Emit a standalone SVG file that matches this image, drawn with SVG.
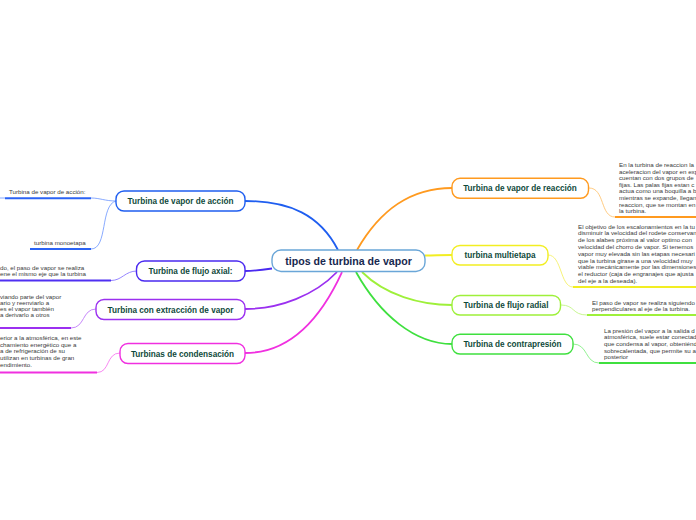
<svg xmlns="http://www.w3.org/2000/svg" width="696" height="520" viewBox="0 0 696 520">
<style>
.node rect{fill:#fff;stroke-width:1.4}
.lbl{font-family:"Liberation Sans",Arial,sans-serif;font-weight:bold;font-size:8.2px;fill:#0f4a3b;text-anchor:middle}
.central{font-family:"Liberation Sans",Arial,sans-serif;font-weight:bold;font-size:10.6px;fill:#17284f;text-anchor:middle}
.sm{font-family:"Liberation Sans",Arial,sans-serif;font-size:6.2px;fill:#3a3a3a}
.main path{fill:none;stroke-width:1.8}
.sub path{fill:none;stroke-width:0.9}
.ul line{stroke-width:2}
</style>
<rect width="696" height="520" fill="#fff"/>
<g id="connectors">
 <g class="main">
  <path d="M338,250 C320,215 290,201 245,201" stroke="#1f5ef0"/>
  <path d="M357,250 C380,210 410,188 452,188" stroke="#ff9a1f"/>
  <path d="M425,255.5 C435,255.5 440,255 452,255" stroke="#f2ee22"/>
  <path d="M362,272 C385,295 420,305 452,305" stroke="#9ef03a"/>
  <path d="M356,272 C380,315 415,344 452,344" stroke="#3fe03f"/>
  <path d="M272,268.5 C262,270 255,271 245,271" stroke="#4a2af0"/>
  <path d="M337,272 C315,295 280,309 245,309" stroke="#9b30f0"/>
  <path d="M342,272 C320,320 290,353 245,353" stroke="#f030e0"/>
 </g>
 <g class="sub">
  <path d="M116,201 C105,201 100,198 91,198" stroke="#7aa0ff"/>
  <path d="M116,201 C100,205 108,249 91,249" stroke="#7aa0ff"/>
  <path d="M137,271 C125,271 122,280.5 111,280.5" stroke="#8a78ff"/>
  <path d="M96,309 C82,309 85,328 71,328" stroke="#c07af8"/>
  <path d="M120,353 C106,353 110,372.5 97,372.5" stroke="#f77aef"/>
  <path d="M589,188 C605,188 600,217 615,217" stroke="#ffc574"/>
  <path d="M548,255 C562,255 560,287 573,287" stroke="#f5f06a"/>
  <path d="M561,305 C575,305 572,315 587,315" stroke="#c2f584"/>
  <path d="M573,344 C588,344 585,363 599,363" stroke="#86ef86"/>
  <path d="M0,198 L5,198" stroke="#7aa0ff"/>
 </g>
 <g class="ul">
  <line x1="5" y1="198.3" x2="91" y2="198.3" stroke="#2b63f5"/>
  <line x1="30" y1="249" x2="91" y2="249" stroke="#2b63f5"/>
  <line x1="0" y1="280.5" x2="111" y2="280.5" stroke="#4f30f2"/>
  <line x1="0" y1="328" x2="71" y2="328" stroke="#9b30f0"/>
  <line x1="0" y1="372.5" x2="97" y2="372.5" stroke="#f030e0"/>
  <line x1="615" y1="217" x2="696" y2="217" stroke="#ff9a1f"/>
  <line x1="573" y1="287" x2="696" y2="287" stroke="#f2ee22"/>
  <line x1="587" y1="315" x2="696" y2="315" stroke="#9ef03a"/>
  <line x1="599" y1="363" x2="696" y2="363" stroke="#3fe03f"/>
 </g>
</g>
<g id="central" class="node">
 <rect x="272" y="250" width="153" height="21.5" rx="9" stroke="#6aa6d8"/>
 <text class="central" x="348.5" y="264.5">tipos de turbina de vapor</text>
</g>
<g id="n-accion" class="node">
 <rect x="116" y="191" width="129" height="20" rx="8" stroke="#1f5ef0"/>
 <text class="lbl" x="180.5" y="204">Turbina de vapor de acción</text>
</g>
<g id="n-accion-c1"><text class="sm" x="9" y="194">Turbina de vapor de acción:</text></g>
<g id="n-accion-c2"><text class="sm" x="34" y="245">turbina monoetapa</text></g>
<g id="n-axial" class="node">
 <rect x="136.5" y="261" width="108.5" height="20" rx="8" stroke="#4a2af0"/>
 <text class="lbl" x="190.5" y="274">Turbina de flujo axial:</text>
</g>
<g id="n-axial-c"><text class="sm" x="0" y="270">do, el paso de vapor se realiza</text><text class="sm" x="0" y="276.2">ene el mismo eje que la turbina</text></g>
<g id="n-extraccion" class="node">
 <rect x="96" y="299.5" width="149" height="20" rx="8" stroke="#9b30f0"/>
 <text class="lbl" x="170.5" y="312.5">Turbina con extracción de vapor</text>
</g>
<g id="n-extraccion-c"><text class="sm" x="0" y="298.5">viando parte del vapor</text><text class="sm" x="0" y="304.8">ario y reenviarlo a</text><text class="sm" x="0" y="311.1">es el vapor también</text><text class="sm" x="0" y="317.4">a derivarlo a otros</text></g>
<g id="n-condensacion" class="node">
 <rect x="120" y="343.5" width="125" height="20" rx="8" stroke="#f030e0"/>
 <text class="lbl" x="182.5" y="356.5">Turbinas de condensación</text>
</g>
<g id="n-condensacion-c"><text class="sm" x="0" y="340.2">erior a la atmosférica, en este</text><text class="sm" x="0" y="346.8">chamiento energético que a</text><text class="sm" x="0" y="353.4">a de refrigeración de su</text><text class="sm" x="0" y="360">utilizan en turbinas de gran</text><text class="sm" x="0" y="366.6">endimiento.</text></g>
<g id="n-reaccion" class="node">
 <rect x="452" y="178.3" width="136.5" height="20" rx="8" stroke="#ff9a1f"/>
 <text class="lbl" x="520" y="191.3">Turbina de vapor de reacción</text>
</g>
<g id="n-reaccion-c"><text class="sm" x="619" y="167">En la turbina de reaccion la</text><text class="sm" x="619" y="173.6">aceleracion del vapor en exp</text><text class="sm" x="619" y="180.2">cuentan con dos grupos de</text><text class="sm" x="619" y="186.8">fijas. Las palas fijas estan c</text><text class="sm" x="619" y="193.4">actua como una boquilla a b</text><text class="sm" x="619" y="200">mientras se expande, llegan</text><text class="sm" x="619" y="206.6">reaccion, que se montan en</text><text class="sm" x="619" y="213.2">la turbina.</text></g>
<g id="n-multietapa" class="node">
 <rect x="452" y="245.5" width="96" height="19.5" rx="8" stroke="#f2ee22"/>
 <text class="lbl" x="500" y="258.3">turbina multietapa</text>
</g>
<g id="n-multietapa-c"><text class="sm" x="578" y="228.6">El objetivo de los escalonamientos en la tu</text><text class="sm" x="578" y="235.4">disminuir la velocidad del rodete conservan</text><text class="sm" x="578" y="242.2">de los alabes próxima al valor optimo con</text><text class="sm" x="578" y="249">velocidad del chorro de vapor. Si tenemos</text><text class="sm" x="578" y="255.8">vapor muy elevada sin las etapas necesari</text><text class="sm" x="578" y="262.6">que la turbina girase a una velocidad muy</text><text class="sm" x="578" y="269.4">viable mecánicamente por las dimensiones</text><text class="sm" x="578" y="276.2">el reductor (caja de engranajes que ajusta</text><text class="sm" x="578" y="283">del eje a la deseada).</text></g>
<g id="n-radial" class="node">
 <rect x="452" y="295.5" width="108.5" height="19.5" rx="8" stroke="#9ef03a"/>
 <text class="lbl" x="506" y="308.3">Turbina de flujo radial</text>
</g>
<g id="n-radial-c"><text class="sm" x="592" y="304.6">El paso de vapor se realiza siguiendo</text><text class="sm" x="592" y="311">perpendiculares al eje de la turbina.</text></g>
<g id="n-contrapresion" class="node">
 <rect x="452" y="334.3" width="121" height="19.7" rx="8" stroke="#3fe03f"/>
 <text class="lbl" x="512.5" y="347.2">Turbina de contrapresión</text>
</g>
<g id="n-contrapresion-c"><text class="sm" x="604" y="332.6">La presión del vapor a la salida d</text><text class="sm" x="604" y="339.2">atmosférica, suele estar conectad</text><text class="sm" x="604" y="345.9">que condensa al vapor, obteniénd</text><text class="sm" x="604" y="352.6">sobrecalentada, que permite su a</text><text class="sm" x="604" y="359.3">posterior</text></g>
</svg>
